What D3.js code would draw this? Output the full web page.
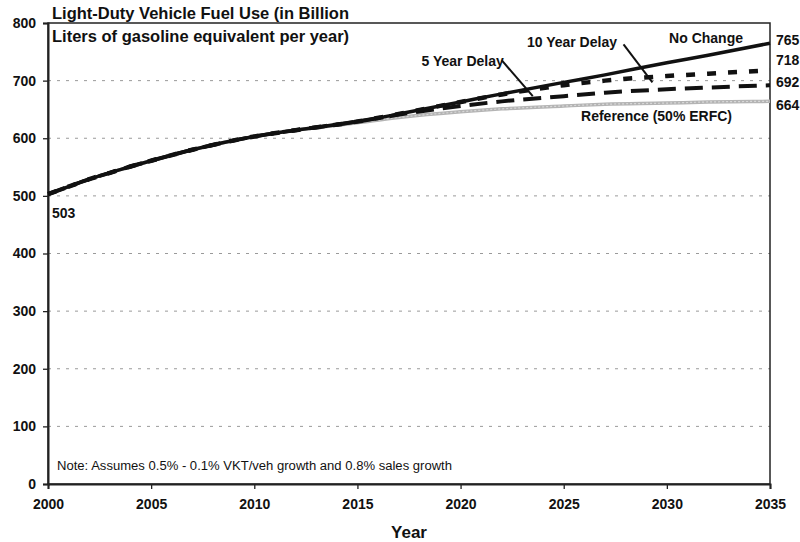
<!DOCTYPE html>
<html><head><meta charset="utf-8">
<script src="https://cdn.jsdelivr.net/npm/d3@7"></script>
<style>
body{margin:0;background:#fff;}
svg{display:block;font-family:"Liberation Sans",Arial,sans-serif;}
</style></head>
<body><svg id="chart" width="800" height="542"></svg>
<script>
const years      = [2000,2001,2002,2003,2004,2005,2007,2010,2012,2015,2017,2020,2022,2025,2027,2030,2032,2035];
const noChange   = [503,516,529,540,551,561,580,603,614,629,642,663,677,697,710,731,744,765];
const delay10    = [503,516,529,540,551,561,580,603,614,629,642,663,676,692,700,708,712,718];
const delay5     = [503,516,529,540,551,561,580,603,614,629,641,656,664,673,679,685,688,692];
const reference  = [503,516,529,540,551,561,580,603,614,627,636,646,651,656,659,661,663,664];
const yTicks     = [0,100,200,300,400,500,600,700,800];
const xTicks     = [2000,2005,2010,2015,2020,2025,2030,2035];
const endLabels  = [{t:"765",v:765,pos:770},{t:"718",v:718,pos:735},{t:"692",v:692,pos:698},{t:"664",v:664,pos:658}];

const svg = d3.select("#chart");
const m = {l:48, r:30, t:23, b:58};
const W = 800, H = 542;
const x = d3.scaleLinear().domain([2000,2035]).range([m.l, W-m.r]);
const y = d3.scaleLinear().domain([0,800]).range([H-m.b, m.t]);

// gridlines
svg.append("g").selectAll("line").data(yTicks.filter(d=>d>0 && d<800)).join("line")
  .attr("x1", x(2000)).attr("x2", x(2035))
  .attr("y1", d=>y(d)).attr("y2", d=>y(d))
  .attr("stroke","#9a9a9a").attr("stroke-width",1).attr("stroke-dasharray","3,6");

// frame
svg.append("rect").attr("x",x(2000)).attr("y",y(800))
  .attr("width",x(2035)-x(2000)).attr("height",y(0)-y(800))
  .attr("fill","none").attr("stroke","#222").attr("stroke-width",1.5);

// axes
const yAxis = svg.append("g").attr("transform",`translate(${x(2000)},0)`)
  .call(d3.axisLeft(y).tickValues(yTicks).tickSize(5).tickPadding(7));
const xAxis = svg.append("g").attr("transform",`translate(0,${y(0)})`)
  .call(d3.axisBottom(x).tickValues(xTicks).tickFormat(d3.format("d")).tickSize(5).tickPadding(10));
[yAxis,xAxis].forEach(a=>{
  a.select(".domain").attr("stroke","#222").attr("stroke-width",2);
  a.selectAll(".tick line").attr("stroke","#222").attr("stroke-width",1.3);
  a.selectAll("text").attr("font-size",14).attr("font-weight","bold").attr("fill","#111")
    .attr("font-family","'Liberation Sans',Arial,sans-serif");
});

// lines
const line = d3.line().x((d,i)=>x(years[i])).y(d=>y(d)).curve(d3.curveMonotoneX);
svg.append("path").datum(reference).attr("d",line).attr("fill","none")
  .attr("stroke","#b4b4b4").attr("stroke-width",3.5);
svg.append("path").datum(reference).attr("d",line).attr("fill","none")
  .attr("stroke","#d8d8d8").attr("stroke-width",1.2).attr("stroke-dasharray","2,2");
svg.append("path").datum(delay5).attr("d",line).attr("fill","none")
  .attr("stroke","#111").attr("stroke-width",4).attr("stroke-dasharray","18,9");
svg.append("path").datum(delay10).attr("d",line).attr("fill","none")
  .attr("stroke","#111").attr("stroke-width",4.5).attr("stroke-dasharray","9,12");
svg.append("path").datum(noChange).attr("d",line).attr("fill","none")
  .attr("stroke","#111").attr("stroke-width",3.5);

// end labels
svg.append("g").selectAll("text").data(endLabels).join("text")
  .attr("x", x(2035)+6)
  .attr("y", d=>y(d.pos))
  .attr("dy","0.35em")
  .attr("font-size",14).attr("font-weight","bold").attr("fill","#111")
  .text(d=>d.t);

svg.append("text").attr("x",x(2000)+4).attr("y",y(470)).attr("dy","0.35em")
  .attr("font-size",14).attr("font-weight","bold").attr("fill","#111").text("503");

// series annotations
const ann = [
  {t:"No Change", yr:2031.9, v:773},
  {t:"10 Year Delay", yr:2025.4, v:766},
  {t:"5 Year Delay", yr:2020.1, v:734},
  {t:"Reference (50% ERFC)", yr:2029.5, v:638}
];
svg.append("g").selectAll("text").data(ann).join("text")
  .attr("x",d=>x(d.yr)).attr("y",d=>y(d.v)).attr("dy","0.35em")
  .attr("text-anchor","middle").attr("font-size",14).attr("font-weight","bold").attr("fill","#111")
  .text(d=>d.t);

// arrows
const arrows = [
  {x1:2022.0, v1:735, x2:2023.5, v2:673},
  {x1:2027.9, v1:763, x2:2029.3, v2:697}
];
svg.append("g").selectAll("line").data(arrows).join("line")
  .attr("x1",d=>x(d.x1)).attr("y1",d=>y(d.v1))
  .attr("x2",d=>x(d.x2)).attr("y2",d=>y(d.v2))
  .attr("stroke","#111").attr("stroke-width",2);

// title
const title = svg.append("text").attr("x",x(2000)+4).attr("font-size",16.5).attr("font-weight","bold").attr("fill","#111");
title.append("tspan").attr("x",x(2000)+4).attr("y",19).text("Light-Duty Vehicle Fuel Use (in Billion");
title.append("tspan").attr("x",x(2000)+4).attr("y",42).text("Liters of gasoline equivalent per year)");

// note
svg.append("text").attr("x",x(2000)+9).attr("y",y(32)).attr("dy","0.35em")
  .attr("font-size",12.5).attr("fill","#111").attr("textLength",395).attr("lengthAdjust","spacingAndGlyphs")
  .text("Note: Assumes 0.5% - 0.1% VKT/veh growth and 0.8% sales growth");

// x axis title
svg.append("text").attr("x",(x(2000)+x(2035))/2).attr("y",538)
  .attr("text-anchor","middle").attr("font-size",17).attr("font-weight","bold").attr("fill","#111").text("Year");
</script></body></html>
